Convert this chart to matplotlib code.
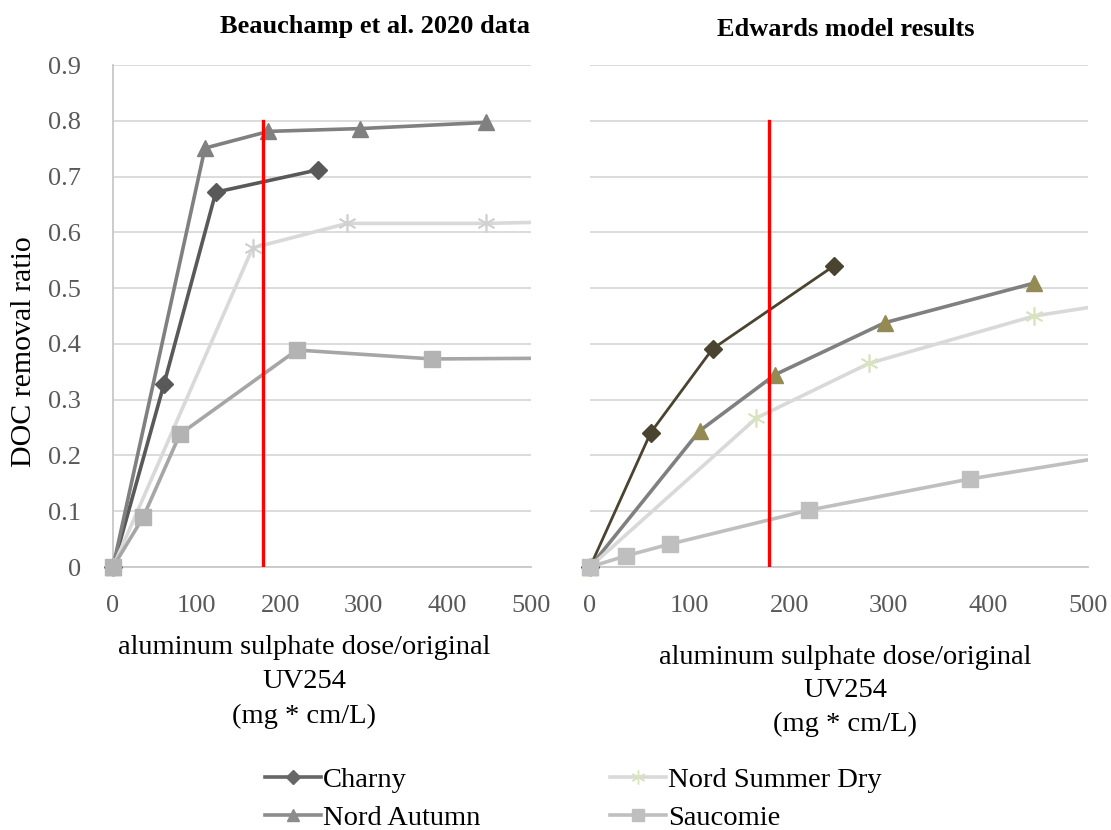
import numpy as np
import matplotlib.pyplot as plt
from matplotlib.lines import Line2D

W, H = 1111, 830
FONT = "Liberation Serif"
plt.rcParams["font.family"] = FONT

# dose / original UV254 (mg*cm/L) for each water
charny_x = [0, 61, 123, 245]
autumn_x = [0, 110, 186, 296, 446]
summer_x = [0, 167, 280, 446, 600]
saucomie_x = [0, 36, 80, 220, 382, 600]

# measured DOC removal ratio (Beauchamp et al. 2020)
charny_obs = [0, 0.328, 0.672, 0.712]
autumn_obs = [0, 0.751, 0.781, 0.786, 0.797]
summer_obs = [0, 0.572, 0.616, 0.616, 0.621]
saucomie_obs = [0, 0.089, 0.238, 0.389, 0.373, 0.375]

# Edwards model predictions
charny_mod = [0, 0.241, 0.391, 0.540]
autumn_mod = [0, 0.244, 0.345, 0.438, 0.509]
summer_mod = [0, 0.267, 0.365, 0.450, 0.493]
saucomie_mod = [0, 0.020, 0.041, 0.102, 0.158, 0.221]

names = ["Charny", "Nord Autumn", "Nord Summer Dry", "Saucomie"]
dose_ref = 180
dose_ref_top = 0.8

yticks = np.round(np.arange(0, 0.91, 0.1), 1)
xticks = [0, 100, 200, 300, 400, 500]
XMAX = 500

ASTER = (6, 2, 0)

# (line colour, marker colour, marker, marker size, line width)
style_obs = [
    ("#595959", "#595959", "D", 9, 2.6),
    ("#808080", "#808080", "^", 11, 2.6),
    ("#d9d9d9", "#d0d0d0", ASTER, 13, 2.6),
    ("#a6a6a6", "#b3b3b3", "s", 11, 2.6),
]
style_mod = [
    ("#4a432f", "#4a432f", "D", 9, 2.0),
    ("#808080", "#948a54", "^", 11, 2.6),
    ("#d9d9d9", "#d7e4bd", ASTER, 13, 2.6),
    ("#bfbfbf", "#bfbfbf", "s", 11, 2.6),
]


def fx(px):
    return px / W


def fy(py):
    return 1 - py / H


fig = plt.figure(figsize=(W / 100, H / 100), dpi=100)
ax1 = fig.add_axes([fx(113), fy(567), fx(531) - fx(113), fy(65) - fy(567)])
ax2 = fig.add_axes([fx(590), fy(567), fx(1088) - fx(590), fy(65) - fy(567)])

xs = [charny_x, autumn_x, summer_x, saucomie_x]
obs = [charny_obs, autumn_obs, summer_obs, saucomie_obs]
mod = [charny_mod, autumn_mod, summer_mod, saucomie_mod]

for ax, ys, styles in [(ax1, obs, style_obs), (ax2, mod, style_mod)]:
    for k, (x, y, (lc, mc, mk, ms, lw)) in enumerate(zip(xs, ys, styles)):
        x = np.asarray(x, float)
        y = np.asarray(y, float)
        # line runs past the right edge, so keep it clipped
        ax.plot(x, y, color=lc, lw=lw, zorder=3 + k * 0.1)
        inside = x <= XMAX
        ax.plot(x[inside], y[inside], ls="none", marker=mk, ms=ms, mfc=mc,
                mec=mc, mew=1.2 if mk == ASTER else 1, zorder=3.05 + k * 0.1,
                clip_on=False)
    ax.plot([dose_ref, dose_ref], [0, dose_ref_top], color="#ff0000", lw=2.4,
            zorder=4.5)

    ax.set_xlim(0, XMAX)
    ax.set_ylim(0, 0.9)
    ax.set_xticks(xticks)
    ax.set_yticks(yticks)
    ax.grid(axis="y", color="#d9d9d9", lw=1.3, zorder=0)
    ax.tick_params(length=0, labelsize=19, labelcolor="#595959", pad=20)
    for s in ["top", "right"]:
        ax.spines[s].set_visible(False)
    ax.spines["bottom"].set_color("#c8c8c8")
    ax.spines["bottom"].set_linewidth(1.3)
    ax.spines["left"].set_color("#c8c8c8")
    ax.spines["left"].set_linewidth(1.3)

ax1.set_yticklabels(["0"] + [f"{v:.1f}" for v in yticks[1:]])
ax2.set_yticklabels([])
ax2.spines["left"].set_visible(False)
ax1.tick_params(axis="y", pad=23)

xlab = "aluminum sulphate dose/original\nUV254\n(mg * cm/L)"
fig.text(fx(304), fy(682), xlab, ha="center", va="center", fontsize=20.5,
         linespacing=1.5)
fig.text(fx(845), fy(691), xlab, ha="center", va="center", fontsize=20.5,
         linespacing=1.42)
fig.text(fx(24), fy(352), "DOC removal ratio", rotation=90, ha="center",
         va="center", fontsize=21.5)

fig.text(fx(375), fy(27), "Beauchamp et al. 2020 data", ha="center",
         va="center", fontsize=19, fontweight="bold")
fig.text(fx(846), fy(30), "Edwards model results", ha="center",
         va="center", fontsize=19, fontweight="bold")

# legend handles
legend_styles = [("#666666", "#666666", "D", 7, 2.6),
                 ("#8c8c8c", "#8c8c8c", "^", 9, 2.6),
                 ("#d9d9d9", "#d7e4bd", ASTER, 10, 2.6),
                 ("#bfbfbf", "#bfbfbf", "s", 9, 2.6)]
handles = []
for (lc, mc, mk, ms, lw), name in zip(legend_styles, names):
    handles.append(Line2D([], [], color=lc, lw=lw, marker=mk, ms=ms,
                          mfc=mc, mec=mc, label=name))

legend_kw = dict(frameon=False, fontsize=20.5, handlelength=1.95,
                 handletextpad=0.1, labelspacing=0.42, borderpad=0,
                 borderaxespad=0)
fig.legend(handles=handles[:2], loc="upper left",
           bbox_to_anchor=(fx(265), fy(767)), **legend_kw)
fig.legend(handles=handles[2:], loc="upper left",
           bbox_to_anchor=(fx(610), fy(767)), **legend_kw)

fig.savefig("out.png", dpi=100)
